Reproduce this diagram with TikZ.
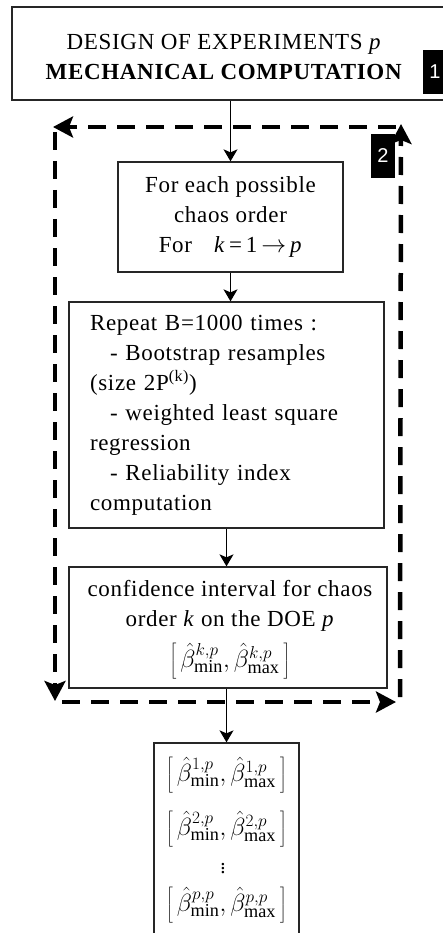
\documentclass[tikz,border=0pt]{standalone}
\usepackage{fontspec}
\setmainfont{Liberation Serif}
\newfontfamily\tagfont{Liberation Sans}
\usetikzlibrary{arrows.meta}
% confidence interval [beta_min, beta_max] for a given chaos order
\newcommand\ivlbeta[1]{\fontsize{26}{30}\selectfont$\left[\vphantom{\rule[-11pt]{0pt}{37pt}}\,\hat{\beta}^{#1}_{\mathrm{min}},\hat{\beta}^{#1}_{\mathrm{max}}\,\right]$}

\begin{document}
\begin{tikzpicture}[x=1pt,y=-1pt,
  box/.style={draw=black!85, line width=1.3pt, fill=white, inner sep=0pt},
  txt/.style={font=\fontsize{23}{30}\selectfont\addfontfeature{LetterSpace=3}},
  ivl/.style={inner sep=0pt},
  flow/.style={line width=1.2pt, -{Stealth[width=14pt,length=12pt,inset=3pt]}},
  loopline/.style={line width=4.5pt, dash pattern=on 18pt off 11pt,
    -{Stealth[width=21pt,length=20pt,inset=4pt]}},
  tag/.style={fill=black, text=white, font=\tagfont\fontsize{20}{24}\selectfont,
    minimum width=24pt, minimum height=44pt, inner sep=0pt}]

\useasboundingbox (0,0) rectangle (443,933);

% main computation box
\node[box, minimum width=434pt, minimum height=93pt] (top) at (229,53.5) {};
\node[txt, align=center] (toptext) at (224,57.5)
  {DESIGN OF EXPERIMENTS \textit{p}\\ \textbf{MECHANICAL COMPUTATION}};
\node[tag] (lab1) at (435,72) {1};

% loop over chaos orders
\node[box, txt, minimum width=225pt, minimum height=110pt, align=center] (b1) at (230.5,217)
  {For each possible\\ chaos order\\ For\hspace{22pt}\textit{k}\,=\,1\,$\rightarrow$\,\textit{p}};

\node[box, txt, minimum width=315pt, minimum height=226pt, text width=273pt, align=left] (b2) at (226.5,415)
  {Repeat B=1000 times :\\
   \hspace*{20pt}- Bootstrap resamples\\
   (size 2P\textsuperscript{(k)})\\
   \hspace*{20pt}- weighted least square\\
   regression\\
   \hspace*{20pt}- Reliability index\\
   computation};

\node[box, minimum width=318pt, minimum height=121pt] (b3) at (228,627.5) {};
\node[txt, align=center] (b3text) at (230,606)
  {confidence interval for chaos\\ order \textit{k} on the DOE \textit{p}};
\node[ivl] (b3ivl) at (230,660) {\ivlbeta{k,p}};

% collected intervals
\node[box, minimum width=145pt, minimum height=217pt] (b4) at (226.5,851.5) {};
\node[ivl] (r1) at (226.5,774) {\ivlbeta{1,p}};
\node[ivl] (r2) at (226.5,828) {\ivlbeta{2,p}};
\node[ivl, font=\fontsize{21}{22}\selectfont] (rd) at (223,866) {$\vdots$};
\node[ivl] (rp) at (226.5,904) {\ivlbeta{p,p}};

% flow connectors
\draw[flow] (b1.north |- top.south) -- (b1.north);
\draw[flow] (b1.south) -- (b1.south |- b2.north);
\draw[flow] (b2.south) -- (b2.south |- b3.north);
\draw[flow] (b3.south -| b4.north) -- (b4.north);

% dashed iteration loop
\coordinate (cTL) at (55,127);
\coordinate (cTR) at (401,127);
\coordinate (cBR) at (400,702);
\coordinate (cBL) at (55,702);
\draw[loopline, shorten <=5pt, shorten >=1pt] (cTL) -- (cBL);
\draw[loopline, shorten <=7pt, shorten >=4pt] (cBL) -- (cBR);
\draw[loopline, shorten <=5pt, shorten >=-3pt] (cBR) -- (cTR);
\draw[loopline, shorten <=5pt, shorten >=-2pt] (cTR) -- (cTL);
\node[tag] (lab2) at (383,156) {2};

\end{tikzpicture}
\end{document}
